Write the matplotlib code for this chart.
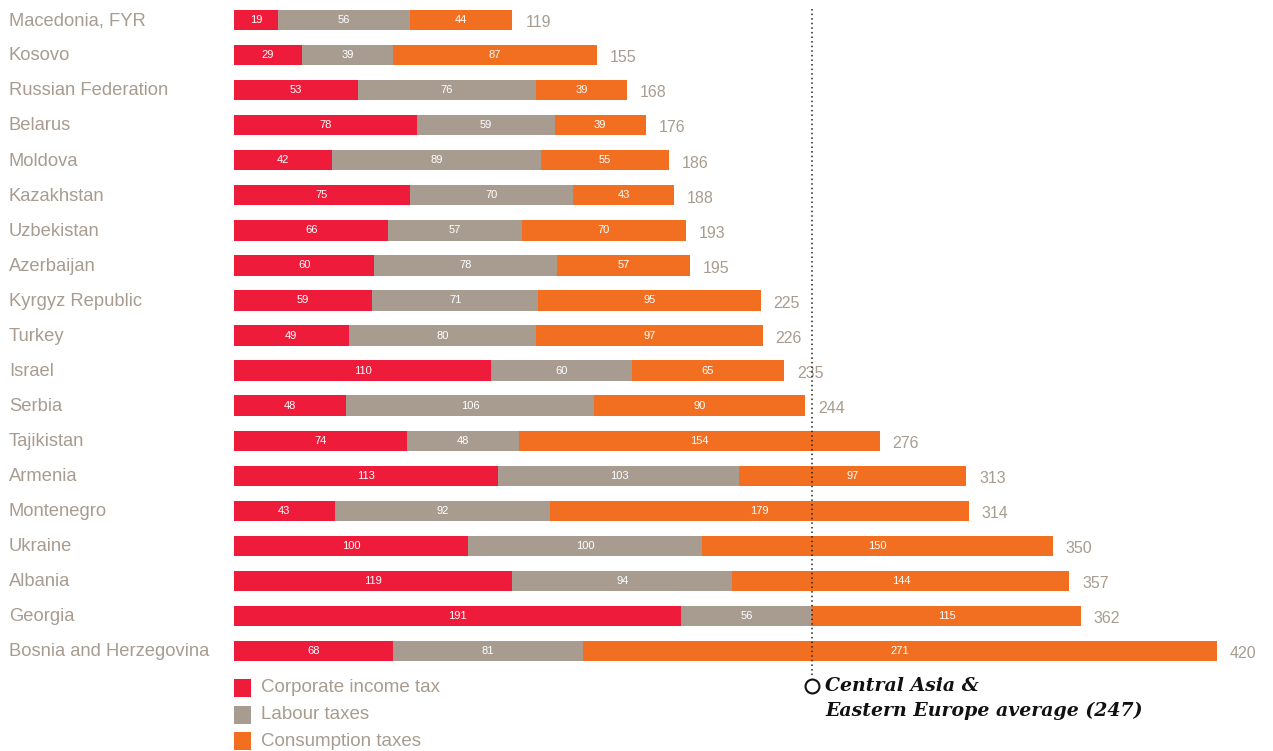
import matplotlib
matplotlib.use('Agg')
from matplotlib import pyplot as plt
from matplotlib.patches import Rectangle

countries = ['Macedonia, FYR', 'Kosovo', 'Russian Federation', 'Belarus', 'Moldova',
             'Kazakhstan', 'Uzbekistan', 'Azerbaijan', 'Kyrgyz Republic', 'Turkey',
             'Israel', 'Serbia', 'Tajikistan', 'Armenia', 'Montenegro', 'Ukraine',
             'Albania', 'Georgia', 'Bosnia and Herzegovina']
corporate = [19, 29, 53, 78, 42, 75, 66, 60, 59, 49, 110, 48, 74, 113, 43, 100, 119, 191, 68]
labour = [56, 39, 76, 59, 89, 70, 57, 78, 71, 80, 60, 106, 48, 103, 92, 100, 94, 56, 81]
consumption = [44, 87, 39, 39, 55, 43, 70, 57, 95, 97, 65, 90, 154, 97, 179, 150, 144, 115, 271]
series_names = ['Corporate income tax', 'Labour taxes', 'Consumption taxes']
average = 247

RED = '#EE1B3A'
GREY = '#A89C91'
ORANGE = '#F26F21'
TXT = '#A89C91'
colors = [RED, GREY, ORANGE]

W, H = 1273, 751
fig = plt.figure(figsize=(W / 100, H / 100), dpi=100)
plt.rcParams['font.family'] = ['Liberation Sans', 'DejaVu Sans']

# axes spans bar area, data units: x in tax units, y in row index
x0 = 234
px_per_unit = 2.34
row0, row_step = 20, 35.06
ax = fig.add_axes([x0 / W, 0, (W - x0) / W, 1])
ax.set_xlim(0, (W - x0) / px_per_unit)
ax.set_ylim((H - row0) / row_step, -row0 / row_step)
ax.axis('off')

ys = list(range(len(countries)))
lefts = [0] * len(countries)
for vals, col in zip([corporate, labour, consumption], colors):
    ax.barh(ys, vals, left=lefts, height=0.58, color=col, linewidth=0)
    for y, v, l in zip(ys, vals, lefts):
        ax.text(l + v / 2, y, str(v), ha='center', va='center', color='white', fontsize=8)
    lefts = [l + v for l, v in zip(lefts, vals)]

for y, tot, name in zip(ys, lefts, countries):
    ax.text(tot + 5.5, y + 0.08, str(tot), ha='left', va='center', color=TXT, fontsize=11.5)
    fig.text(9 / W, 1 - (row0 + 0.8 + row_step * y) / H, name, ha='left', va='center',
             color=TXT, fontsize=13.2)

# average line
ax.plot([average, average], [-0.3, (686 - row0) / row_step - 0.25], color='#222222',
        linestyle=(0, (1, 2)), linewidth=1.1, zorder=5)
ax.plot([average], [(686 - row0) / row_step], marker='o', markersize=10, markerfacecolor='white',
        markeredgecolor='#111111', markeredgewidth=1.5, zorder=6)
serif = ['DejaVu Serif', 'Liberation Serif']
fig.text(825 / W, 1 - 686 / H, 'Central Asia &', ha='left', va='center', fontsize=13.6,
         family=serif, style='italic', weight='bold', color='#111111')
fig.text(825 / W, 1 - 711 / H, 'Eastern Europe average (247)', ha='left', va='center', fontsize=13.6,
         family=serif, style='italic', weight='bold', color='#111111')

# legend
for i, (name, col) in enumerate(zip(series_names, colors)):
    yc = 688 + 26.5 * i
    fig.patches.append(Rectangle((234 / W, 1 - (yc + 9) / H), 17 / W, 18 / H,
                                 transform=fig.transFigure, color=col, linewidth=0))
    fig.text(261 / W, 1 - yc / H, name, ha='left', va='center', color=TXT, fontsize=13.5)

fig.savefig('out.png', dpi=100)
